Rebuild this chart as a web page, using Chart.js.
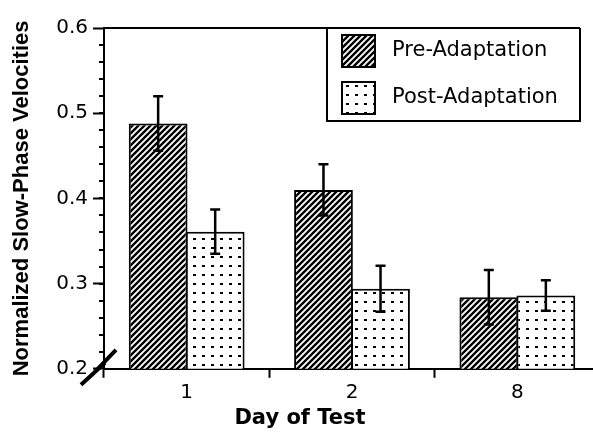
<!DOCTYPE html>
<html>
<head>
<meta charset="utf-8">
<script src="https://cdn.jsdelivr.net/npm/chart.js@4/dist/chart.umd.min.js"></script>
<style>
  html, body { margin: 0; padding: 0; background: #fff; overflow: hidden; }
  #wrap { width: 610px; height: 432px; }
</style>
</head>
<body>
<div id="wrap"><canvas id="chart" width="610" height="432"></canvas></div>
<script>
const days = ["1", "2", "8"];
const preValues = [0.488, 0.410, 0.284];
const preErrors = [0.032, 0.030, 0.032];
const postValues = [0.361, 0.294, 0.286];
const postErrors = [0.026, 0.027, 0.018];
const seriesNames = ["Pre-Adaptation", "Post-Adaptation"];
const yMin = 0.2;
const yMax = 0.6;
const yMajorStep = 0.1;
const yMinorStep = 0.02;

const canvas = document.getElementById("chart");
const ctx = canvas.getContext("2d");

function makeHatch() {
  const c = document.createElement("canvas");
  c.width = 6; c.height = 6;
  const g = c.getContext("2d");
  g.fillStyle = "#fff";
  g.fillRect(0, 0, 6, 6);
  g.strokeStyle = "#000";
  g.lineWidth = 2.4;
  g.beginPath();
  g.moveTo(-1, 7); g.lineTo(7, -1);
  g.moveTo(-4, 4); g.lineTo(4, -4);
  g.moveTo(2, 10); g.lineTo(10, 2);
  g.stroke();
  return ctx.createPattern(c, "repeat");
}

function makeDots() {
  const c = document.createElement("canvas");
  c.width = 9; c.height = 9;
  const g = c.getContext("2d");
  g.fillStyle = "#fff";
  g.fillRect(0, 0, 9, 9);
  g.fillStyle = "#000";
  g.fillRect(4, 4, 3, 2);
  return ctx.createPattern(c, "repeat");
}

const hatch = makeHatch();
const dots = makeDots();

// error bars drawn over each bar using the y scale
const errorBars = {
  id: "errorBars",
  afterDatasetsDraw(chart) {
    const y = chart.scales.y;
    const g = chart.ctx;
    g.save();
    g.strokeStyle = "#000";
    g.lineWidth = 2.5;
    chart.data.datasets.forEach((ds, i) => {
      chart.getDatasetMeta(i).data.forEach((bar, j) => {
        const v = ds.data[j];
        const e = ds.errors[j];
        const top = y.getPixelForValue(v + e);
        const bot = y.getPixelForValue(v - e);
        g.beginPath();
        g.moveTo(bar.x, top); g.lineTo(bar.x, bot);
        g.moveTo(bar.x - 5, top); g.lineTo(bar.x + 5, top);
        g.moveTo(bar.x - 5, bot); g.lineTo(bar.x + 5, bot);
        g.stroke();
      });
    });
    g.restore();
  }
};

// minor ticks, top frame line, axis break and boxed legend
const decorations = {
  id: "decorations",
  afterDraw(chart) {
    const g = chart.ctx;
    const y = chart.scales.y;
    const area = chart.chartArea;
    g.save();
    g.strokeStyle = "#000";
    g.fillStyle = "#000";

    g.lineWidth = 2;
    g.beginPath();
    for (let v = yMin + yMinorStep; v < yMax - 1e-9; v += yMinorStep) {
      const p = Math.round(y.getPixelForValue(v));
      g.moveTo(area.left - 5, p);
      g.lineTo(area.left, p);
    }
    g.stroke();

    const boxL = 327, boxR = 580, boxB = 121;
    g.beginPath();
    g.moveTo(area.left, area.top);
    g.lineTo(boxR, area.top);
    g.stroke();

    g.beginPath();
    g.moveTo(boxL, area.top);
    g.lineTo(boxL, boxB);
    g.lineTo(boxR, boxB);
    g.lineTo(boxR, area.top);
    g.stroke();

    const fills = [hatch, dots];
    const rows = [35, 82];
    g.font = "21px 'DejaVu Sans'";
    g.textBaseline = "middle";
    rows.forEach((ry, i) => {
      g.fillStyle = fills[i];
      g.fillRect(342, ry, 33, 32);
      g.lineWidth = 2;
      g.strokeRect(342, ry, 33, 32);
      g.fillStyle = "#000";
      g.fillText(chart.data.datasets[i].label, 392, ry + 16);
    });

    // axis break mark
    const bx = area.left, by = area.bottom;
    g.lineWidth = 4;
    g.beginPath();
    g.moveTo(bx - 23, by + 16); g.lineTo(bx + 1, by - 6);
    g.moveTo(bx - 12, by + 6); g.lineTo(bx + 12, by - 19);
    g.stroke();
    g.restore();
  }
};

new Chart(ctx, {
  type: "bar",
  data: {
    labels: days,
    datasets: [
      {
        label: seriesNames[0],
        data: preValues,
        errors: preErrors,
        backgroundColor: hatch,
        borderColor: "#000",
        borderWidth: 2,
        borderSkipped: false
      },
      {
        label: seriesNames[1],
        data: postValues,
        errors: postErrors,
        backgroundColor: dots,
        borderColor: "#000",
        borderWidth: 2,
        borderSkipped: false
      }
    ]
  },
  options: {
    responsive: false,
    animation: false,
    events: [],
    layout: { padding: { top: 28, right: 10, left: 0, bottom: 0 } },
    datasets: { bar: { categoryPercentage: 0.69, barPercentage: 1.03 } },
    plugins: {
      legend: { display: false },
      tooltip: { enabled: false },
      title: {
        display: true,
        position: "bottom",
        text: "Day of Test",
        color: "#000",
        font: { family: "'DejaVu Sans'", size: 21, weight: "bold" },
        padding: { top: 0, bottom: 1 }
      }
    },
    scales: {
      x: {
        offset: true,
        grid: {
          offset: true,
          drawOnChartArea: false,
          drawTicks: true,
          tickLength: 9,
          tickWidth: 2,
          tickColor: "#000"
        },
        border: { display: true, color: "#000", width: 2 },
        ticks: {
          color: "#000",
          padding: 3,
          font: { family: "'DejaVu Sans'", size: 20 }
        },
        afterFit(scale) { scale.height = 37; }
      },
      y: {
        min: yMin,
        max: yMax,
        grid: {
          drawOnChartArea: false,
          drawTicks: true,
          tickLength: 11,
          tickWidth: 2,
          tickColor: "#000"
        },
        border: { display: true, color: "#000", width: 2 },
        ticks: {
          stepSize: yMajorStep,
          color: "#000",
          padding: 5,
          font: { family: "'DejaVu Sans'", size: 20 },
          callback: v => v.toFixed(1)
        },
        title: {
          display: true,
          text: "Normalized Slow-Phase Velocities",
          color: "#000",
          font: { family: "'Liberation Sans'", size: 22, weight: "bold" },
          padding: { top: 9, bottom: 0 }
        },
        afterFit(scale) { scale.width = 104; }
      }
    }
  },
  plugins: [errorBars, decorations]
});
</script>
</body>
</html>
